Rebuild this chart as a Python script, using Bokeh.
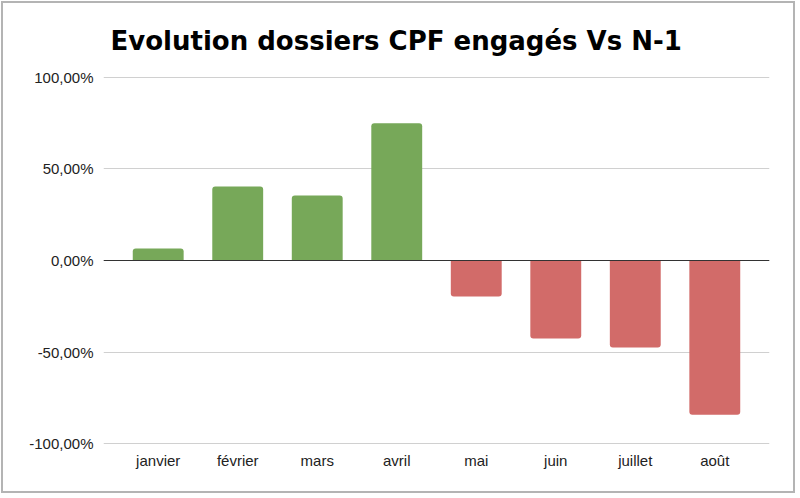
from bokeh.plotting import figure
from bokeh.models import FactorRange, Range1d, Span, CustomJSTickFormatter, FixedTicker, ColumnDataSource
from bokeh.embed import file_html
from bokeh.resources import INLINE

months = ["janvier", "février", "mars", "avril", "mai", "juin", "juillet", "août"]
evolution = [0.066, 0.404, 0.355, 0.749, -0.197, -0.426, -0.475, -0.842]
y_ticks = [-1.0, -0.5, 0.0, 0.5, 1.0]
title_text = "Evolution dossiers CPF engagés Vs N-1"

GREEN = "#77a859"
RED = "#d26b69"

pos = ColumnDataSource(dict(x=[m for m, v in zip(months, evolution) if v >= 0],
                            top=[v for v in evolution if v >= 0]))
neg = ColumnDataSource(dict(x=[m for m, v in zip(months, evolution) if v < 0],
                            top=[v for v in evolution if v < 0]))

p = figure(width=794, height=492, output_backend="svg", toolbar_location=None,
           x_range=FactorRange(*months, range_padding=0.047),
           y_range=Range1d(-1.01, 1.01),
           min_border_left=100, min_border_right=28, min_border_top=72, min_border_bottom=50)
p.styles = {"border": "2px solid #b4b4b4", "margin-left": "1px", "margin-top": "1px"}

p.title.text = title_text
p.title.text_font = "DejaVu Sans"
p.title.text_font_size = "26px"
p.title.text_font_style = "bold"
p.title.text_color = "#000000"
p.title.align = "left"
p.title.offset = 7
p.title.standoff = 39

p.vbar(x="x", top="top", bottom=0, width=0.64, source=pos, fill_color=GREEN,
       line_color=None, border_radius=(3, 3, 0, 0))
p.vbar(x="x", top="top", bottom=0, width=0.64, source=neg, fill_color=RED,
       line_color=None, border_radius=(0, 0, 3, 3))

p.add_layout(Span(location=0, dimension="width", line_color="#333333", line_width=1.2))

p.outline_line_color = None
p.xgrid.grid_line_color = None
p.ygrid.grid_line_color = "#d0d0d0"
p.ygrid.grid_line_width = 1.2

p.yaxis.ticker = FixedTicker(ticks=y_ticks)
p.yaxis.formatter = CustomJSTickFormatter(code="return (tick*100).toFixed(2).replace('.', ',') + '%';")
for ax in (p.xaxis[0], p.yaxis[0]):
    ax.axis_line_color = None
    ax.major_tick_line_color = None
    ax.minor_tick_line_color = None
    ax.major_tick_out = 0
    ax.major_tick_in = 0
    ax.minor_tick_out = 0
    ax.minor_tick_in = 0
    ax.major_label_text_font = "Liberation Sans"
    ax.major_label_text_font_size = "15px"
    ax.major_label_text_color = "#222222"
p.yaxis.major_label_standoff = 10
p.xaxis.major_label_standoff = 6

open("out.html", "w").write(file_html(p, INLINE))
